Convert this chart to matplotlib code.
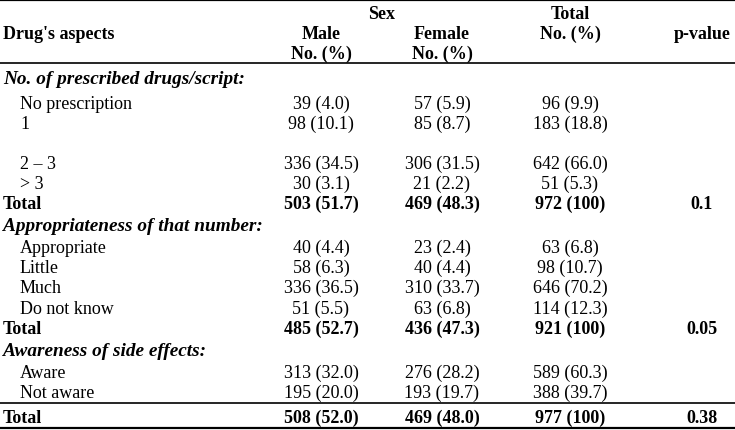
import matplotlib
matplotlib.use("Agg")
import matplotlib.pyplot as plt

# ---------------- data ----------------
sections = ["No. of prescribed drugs/script:",
            "Appropriateness of that number:",
            "Awareness of side effects:"]
categories = [
    ["No prescription", "1", "2 \u2013 3", "> 3"],
    ["Appropriate", "Little", "Much", "Do not know"],
    ["Aware", "Not aware"],
]
male = [
    ["39 (4.0)", "98 (10.1)", "336 (34.5)", "30 (3.1)"],
    ["40 (4.4)", "58 (6.3)", "336 (36.5)", "51 (5.5)"],
    ["313 (32.0)", "195 (20.0)"],
]
female = [
    ["57 (5.9)", "85 (8.7)", "306 (31.5)", "21 (2.2)"],
    ["23 (2.4)", "40 (4.4)", "310 (33.7)", "63 (6.8)"],
    ["276 (28.2)", "193 (19.7)"],
]
total = [
    ["96 (9.9)", "183 (18.8)", "642 (66.0)", "51 (5.3)"],
    ["63 (6.8)", "98 (10.7)", "646 (70.2)", "114 (12.3)"],
    ["589 (60.3)", "388 (39.7)"],
]
male_total = ["503 (51.7)", "485 (52.7)", "508 (52.0)"]
female_total = ["469 (48.3)", "436 (47.3)", "469 (48.0)"]
grand_total = ["972 (100)", "921 (100)", "977 (100)"]
p_values = ["0.1", "0.05", "0.38"]

# ---------------- layout ----------------
W, H = 735, 431
fig = plt.figure(figsize=(W / 100, H / 100), dpi=100)
ax = fig.add_axes([0, 0, 1, 1])
ax.set_xlim(0, W)
ax.set_ylim(H, 0)
ax.axis("off")

FONT = "Liberation Serif"
FS = 13.0
FS_SEC = 13.9
BASE = 6  # offset from row centre to baseline

x_left, x_indent = 3, 20
x_male, x_female, x_total, x_p = 321, 442, 570, 702
x_sex = (x_male + x_female) / 2


def txt(x, yc, s, ha="left", weight="normal", style="normal", fs=FS):
    ax.text(x, yc + BASE, s, ha=ha, va="baseline", fontsize=fs,
            family=FONT, fontweight=weight, fontstyle=style, color="black")


# header
txt(x_sex, 13, "Sex", ha="center", weight="bold")
txt(x_total, 13, "Total", ha="center", weight="bold")
txt(x_left, 33, "Drug's aspects", weight="bold")
txt(x_male, 33, "Male", ha="center", weight="bold")
txt(x_female, 33, "Female", ha="center", weight="bold")
txt(x_total, 33, "No. (%)", ha="center", weight="bold")
txt(x_p, 33, "p-value", ha="center", weight="bold")
txt(x_male, 53, "No. (%)", ha="center", weight="bold")
txt(x_female, 53, "No. (%)", ha="center", weight="bold")

# row centres per section: section title, categories..., total
row_layout = [
    (78, [103, 123, 163, 183], 203),
    (225, [247, 267, 287, 308], 328),
    (350, [372, 392], 417),
]

for si, (ys, ycats, yt) in enumerate(row_layout):
    txt(x_left, ys, sections[si], weight="bold", style="italic", fs=FS_SEC)
    for ci, yc in enumerate(ycats):
        txt(x_indent, yc, categories[si][ci])
        txt(x_male, yc, male[si][ci], ha="center")
        txt(x_female, yc, female[si][ci], ha="center")
        txt(x_total, yc, total[si][ci], ha="center")
    txt(x_left, yt, "Total", weight="bold")
    txt(x_male, yt, male_total[si], ha="center", weight="bold")
    txt(x_female, yt, female_total[si], ha="center", weight="bold")
    txt(x_total, yt, grand_total[si], ha="center", weight="bold")
    txt(x_p, yt, p_values[si], ha="center", weight="bold")

# rules
for y, lw in [(1, 1.6), (64, 1.2), (404, 1.2), (429.5, 1.6)]:
    ax.plot([0, W], [y, y], color="black", lw=lw, solid_capstyle="butt")

fig.savefig("out.png", dpi=100)
